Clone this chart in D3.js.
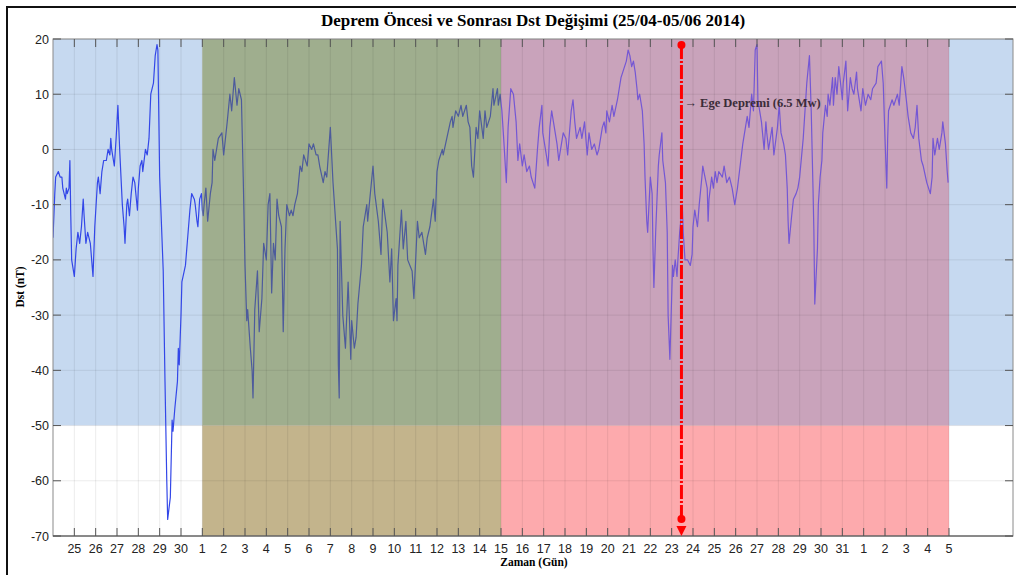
<!DOCTYPE html>
<html>
<head>
<meta charset="utf-8">
<script src="https://cdn.jsdelivr.net/npm/d3@7"></script>
<style>
  html, body { margin: 0; padding: 0; background: #fff; }
  svg { display: block; }
</style>
</head>
<body>
<svg id="chart" width="1016" height="575"></svg>
<script>
// Hourly Dst index, hours counted from 24 April 2014 00:00
const dstHours = [
  0,2,3,6,8,10,11,14,15,16,18,19,20,21,22,24,26,28,30,32,34,35,37,39,42,45,47,50,51,53,55,57,60,62,64,65,66,69,71,73,75,78,80,81,83,84,86,88,90,92,95,96,98,100,101,104,106,108,110,113,115,117,118,120,124,126,128,129,132,134,135,137,140,141,142,144,145,149,151,152,154,156,159,160,162,163,165,167,168,169,170,
  172,174,177,179,180,182,186,190,192,196,199,201,204,207,209,212,214,216,218,219,222,224,225,227,230,232,235,237,240,242,244,246,248,250,252,254,257,259,261,263,266,268,270,272,275,278,280,282,286,288,291,293,296,298,300,304,306,308,312,315,320,321,322,323,326,329,332,334,335,336,339,341,343,347,349,353,354,357,360,362,366,369,371,376,379,381,383,386,387,388,392,394,397,399,404,406,410,412,415,419,421,424,428,430,432,434,438,439,443,447,449,450,453,456,459,461,465,467,469,471,473,476,478,480,484,486,488,492,495,496,500,501,503,
  505,507,510,512,515,518,521,523,525,528,530,533,536,538,540,542,545,547,550,551,555,557,559,561,563,567,569,571,574,577,579,583,585,587,589,593,595,598,601,603,606,609,612,614,618,620,622,623,626,629,631,635,636,639,641,645,647,649,651,653,655,657,658,660,663,665,666,668,669,672,674,675,676,678,681,682,685,686,689,691,692,694,697,698,700,702,703,705,708,709,711,714,717,719,720,722,725,727,730,731,736,737,738,741,743,745,747,749,753,755,758,761,764,767,770,773,776,781,783,786,788,790,792,793,795,797,800,802,803,805,809,811,815,817,819,822,824,826,827,828,831,833,836,838,840,844,848,851,853,855,856,857,860,861,863,865,866,869,871,872,874,877,878,880,882,884,888,889,892,894,897,899,901,904,905,909,911,914,917,920,922,926,928,932,934,936,938,939,940,944,946,950,952,955,957,960,962,965,968,970,972,974,977,979,983,987,989,990,992,995,997,1000,1001,1004,1006,1007,1009
];
const dstValues = [
  -16,-8,-5,-4,-5,-5,-7,-9,-7,-8,-7,-2,-12,-20,-21,-23,-18,-15,-17,-14,-9,-12,-17,-15,-17,-23,-14,-6,-5,-8,-4,-2,-2,0,-1,2,0,-3,2,8,0,-10,-14,-17,-10,-9,-12,-8,-5,-6,-11,-7,-3,-2,-4,0,-1,2,10,12,17,19,18,-5,-22,-42,-60,-67,-63,-49,-51,-47,-42,-36,-39,-30,-24,-21,-17,-15,-11,-8,-9,-10,-13,-14,-9,-8,-11,-12,-10,
  -7,-13,-8,-6,0,-2,2,3,-1,5,10,7,13,8,11,9,-5,-21,-31,-29,-36,-40,-45,-29,-22,-33,-27,-17,-20,-10,-8,-26,-17,-20,-9,-12,-14,-33,-18,-10,-12,-11,-12,-10,-8,-3,-4,-1,-3,1,0,1,-1,-1,-3,-6,-4,-5,4,-6,-18,-39,-45,-13,-30,-36,-24,-33,-38,-31,-36,-34,-28,-21,-14,-10,-13,-8,-3,-8,-13,-19,-9,-15,-24,-18,-31,-27,-31,-21,-11,-18,-13,-20,-22,-27,-13,-16,-15,-19,-16,-14,-9,-13,-4,-2,0,-1,2,5,6,4,7,6,8,6,8,5,4,-3,-5,4,2,7,2,7,4,6,11,8,11,8,10,
  7,2,-6,4,11,10,5,-2,1,-3,-1,-4,-3,-5,-6,-7,0,4,8,3,-1,-3,4,7,5,1,-2,0,3,2,-1,7,9,5,2,4,2,5,-1,3,0,1,-1,0,4,5,3,7,5,8,6,9,10,13,14,16,18,17,15,16,14,11,9,10,7,1,-5,-13,-15,-5,-8,-18,-25,-15,-3,-1,3,-2,-6,-15,-30,-38,-21,-23,-20,-23,-20,-15,-10,-15,-20,-20,-21,-19,-14,-11,-14,-10,-5,-3,-7,-13,-9,-5,-7,-4,-6,-4,-5,-3,-6,-5,-7,-10,-7,-3,1,6,4,10,7,18,19,9,7,5,0,5,3,0,4,-1,4,8,3,1,-1,-7,-13,-17,-12,-9,-8,-7,-5,2,12,17,7,-7,-15,-28,-18,-10,-5,-2,3,8,6,10,8,13,8,13,10,15,9,12,16,7,13,11,10,14,11,7,11,8,10,9,11,12,15,16,12,2,-7,2,7,9,8,10,8,15,13,9,6,3,2,4,8,2,-2,-3,-6,-8,-5,2,-1,2,0,3,5,1,-4,-6
];

// Day ticks: 25 April ... 5 June, one per day boundary
const tickLabels = [
  "25","26","27","28","29","30",
  "1","2","3","4","5","6","7","8","9","10","11","12","13","14","15","16",
  "17","18","19","20","21","22","23","24","25","26","27","28","29","30","31",
  "1","2","3","4","5"
];
const yTicks = [20, 10, 0, -10, -20, -30, -40, -50, -60, -70];

// Periods (hours) and storm threshold (nT)
const periodStart = [0, 168, 504, 1008];
const periodEnd   = [168, 504, 1008, 1080];
const quietLevel = -50;
const quakeHour = 707;
const quakeLabel = "\u2192 Ege Depremi (6.5 Mw)";

const W = 1016, H = 575;
const margin = { top: 39, right: 3, bottom: 39, left: 53 };
const svg = d3.select("#chart");

const x = d3.scaleLinear().domain([0, 1080]).range([margin.left, W - margin.right]);
const y = d3.scaleLinear().domain([-70, 20]).range([H - margin.bottom, margin.top]);

// outer figure frame
svg.append("line").attr("x1", 7).attr("x2", 7).attr("y1", 6).attr("y2", H)
  .attr("stroke", "#111").attr("stroke-width", 2);
svg.append("line").attr("x1", 6).attr("x2", W).attr("y1", 7).attr("y2", 7)
  .attr("stroke", "#111").attr("stroke-width", 2);

// background bands
const topFill = ["#c6d9f0", "#9fae8e", "#c9a3bb", "#c6d9f0"];
const lowFill = ["#ffffff", "#c3b48c", "#fdaaad", "#ffffff"];
const bg = svg.append("g");
periodStart.forEach((s, i) => {
  bg.append("rect")
    .attr("x", x(s)).attr("width", x(periodEnd[i]) - x(s))
    .attr("y", y(20)).attr("height", y(quietLevel) - y(20))
    .attr("fill", topFill[i]);
  bg.append("rect")
    .attr("x", x(s)).attr("width", x(periodEnd[i]) - x(s))
    .attr("y", y(quietLevel)).attr("height", y(-70) - y(quietLevel))
    .attr("fill", lowFill[i]);
});

// grid
const tickHours = tickLabels.map((_, i) => (i + 1) * 24);
const grid = svg.append("g").attr("stroke", "rgba(0,0,0,0.08)").attr("stroke-width", 1);
tickHours.forEach(h => grid.append("line")
  .attr("x1", x(h)).attr("x2", x(h)).attr("y1", y(20)).attr("y2", y(-70)));
yTicks.forEach(v => grid.append("line")
  .attr("x1", x(0)).attr("x2", x(1080)).attr("y1", y(v)).attr("y2", y(v)));

// Dst curve, tinted per period
const pts = dstHours.map((h, i) => [h, dstValues[i]]);
const line = d3.line().x(d => x(d[0])).y(d => y(d[1]));
const lineColors = ["#3347e8", "#4d5b9c", "#7457d4", "#3347e8"];
const defs = svg.append("defs");
periodStart.forEach((s, i) => {
  defs.append("clipPath").attr("id", "clip" + i)
    .append("rect").attr("x", x(s)).attr("width", x(periodEnd[i]) - x(s))
    .attr("y", 0).attr("height", H);
  svg.append("path").datum(pts)
    .attr("clip-path", `url(#clip${i})`)
    .attr("fill", "none").attr("stroke", lineColors[i])
    .attr("stroke-width", 1.2).attr("stroke-linejoin", "round")
    .attr("d", line);
});

// axes frame
svg.append("rect")
  .attr("x", x(0)).attr("y", y(20)).attr("width", x(1080) - x(0)).attr("height", y(-70) - y(20))
  .attr("fill", "none").attr("stroke", "#8a8a8a").attr("stroke-width", 1);
svg.append("line").attr("x1", x(0)).attr("x2", x(1080)).attr("y1", y(-70)).attr("y2", y(-70))
  .attr("stroke", "#555").attr("stroke-width", 1.2);

const tickLen = 8;
const ticks = svg.append("g").attr("stroke", "#555").attr("stroke-width", 1);
tickHours.forEach(h => {
  ticks.append("line").attr("x1", x(h)).attr("x2", x(h)).attr("y1", y(-70)).attr("y2", y(-70) - tickLen);
  ticks.append("line").attr("x1", x(h)).attr("x2", x(h)).attr("y1", y(20)).attr("y2", y(20) + tickLen);
});
yTicks.forEach(v => {
  ticks.append("line").attr("x1", x(0)).attr("x2", x(0) + tickLen).attr("y1", y(v)).attr("y2", y(v));
  ticks.append("line").attr("x1", x(1080)).attr("x2", x(1080) - tickLen).attr("y1", y(v)).attr("y2", y(v));
});

const sans = "'Liberation Sans', Arial, sans-serif";
const serif = "'Liberation Serif', 'Times New Roman', serif";

svg.append("g").selectAll("text").data(tickLabels).join("text")
  .attr("x", (d, i) => x(tickHours[i])).attr("y", y(-70) + 17)
  .attr("text-anchor", "middle").attr("font-family", sans).attr("font-size", 12.5)
  .attr("fill", "#222").text(d => d);

svg.append("g").selectAll("text").data(yTicks).join("text")
  .attr("x", x(0) - 4).attr("y", d => y(d) + 4.5)
  .attr("text-anchor", "end").attr("font-family", sans).attr("font-size", 12.5)
  .attr("fill", "#222").text(d => d);

// earthquake marker
const qx = x(quakeHour);
svg.append("line").attr("x1", qx).attr("x2", qx).attr("y1", y(20) + 6).attr("y2", y(-70) - 17)
  .attr("stroke", "#ff0000").attr("stroke-width", 3)
  .attr("stroke-dasharray", "14,2,2,2");
svg.append("circle").attr("cx", qx).attr("cy", y(20) + 6).attr("r", 4).attr("fill", "#ff0000");
svg.append("circle").attr("cx", qx).attr("cy", y(-70) - 17).attr("r", 4).attr("fill", "#ff0000");
svg.append("path")
  .attr("d", `M${qx - 5},${y(-70) - 10} L${qx + 5},${y(-70) - 10} L${qx},${y(-70)} Z`)
  .attr("fill", "#ff0000");
svg.append("text").attr("x", qx + 3).attr("y", y(8.5) + 4)
  .attr("font-family", serif).attr("font-weight", "bold").attr("font-size", 12.5)
  .attr("fill", "#3a2c38").text(quakeLabel);

// titles
svg.append("text").attr("x", 533).attr("y", 26).attr("text-anchor", "middle")
  .attr("font-family", serif).attr("font-weight", "bold").attr("font-size", 17)
  .attr("fill", "#000").text("Deprem Öncesi ve Sonrası Dst Değişimi (25/04-05/06 2014)");
svg.append("text").attr("x", 534).attr("y", 566).attr("text-anchor", "middle")
  .attr("font-family", serif).attr("font-weight", "bold").attr("font-size", 11.5)
  .attr("fill", "#000").text("Zaman (Gün)");
svg.append("text").attr("transform", "translate(24,287) rotate(-90)").attr("text-anchor", "middle")
  .attr("font-family", serif).attr("font-weight", "bold").attr("font-size", 11.5)
  .attr("fill", "#000").text("Dst (nT)");
</script>
</body>
</html>
